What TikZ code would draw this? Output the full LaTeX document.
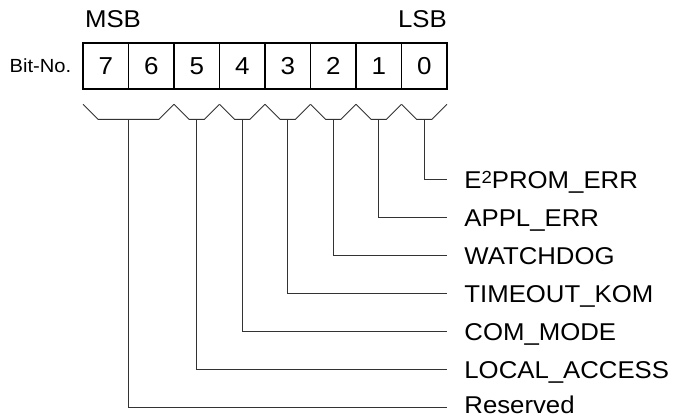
\documentclass[tikz,border=0pt]{standalone}
\usepackage{fontspec}
\setmainfont{Liberation Sans}[FakeStretch=1.06]
\usetikzlibrary{calc}
\begin{document}
\begin{tikzpicture}[x=1pt,y=-1pt,
  cell/.style={draw, line width=1.8pt, minimum width=45.5pt, minimum height=46pt,
    inner sep=0pt, outer sep=0pt, font=\fontsize{24.5}{24.5}\selectfont},
  lbl/.style={anchor=base west, inner sep=0pt, font=\fontsize{24.3}{24.3}\selectfont},
  head/.style={inner sep=0pt, font=\fontsize{24.3}{24.3}\selectfont},
  wire/.style={line width=0.9pt, black!80},
]
\useasboundingbox (0,0) rectangle (676,416);

% register cells
\foreach \b [count=\k from 0] in {7,...,0}
  \node[cell] (b\b) at ({105.75+45.5*\k},66.3) {\b};

\node[anchor=base west, inner sep=0pt,
  font=\fontsize{19}{19}\selectfont] (bitno) at (9.5,72) {Bit-No.};
\node[head, anchor=base west] (msb) at (84.9,27.8) {MSB};
\node[head, anchor=base east] (lsb) at (447,27.8) {LSB};

% braces
\draw[wire] ($(b7.south west)+(0,15)$) -- ++(15,15) -- ($(b6.south east)+(-15,30)$) -- ($(b6.south east)+(0,15)$);
\foreach \b in {5,...,0}
  \draw[wire] ($(b\b.south west)+(0,15)$) -- ++(15,15) -- ($(b\b.south east)+(-15,30)$) -- ($(b\b.south east)+(0,15)$);

% stem points
\coordinate (sr) at ($(b7.south east)+(0,30)$);
\foreach \b in {5,...,0}
  \coordinate (s\b) at ($(b\b.south)+(0,30)$);

% labels
\node[lbl] (l0) at (464.2,188.5) {E\raisebox{5pt}{\fontsize{17.5}{17.5}\selectfont 2}PROM\_ERR};
\node[lbl] (l1) at (464.2,226.5) {APPL\_ERR};
\node[lbl] (l2) at (464.2,264.5) {WATCHDOG};
\node[lbl] (l3) at (464.2,302.5) {TIMEOUT\_KOM};
\node[lbl] (l4) at (464.2,340.5) {COM\_MODE};
\node[lbl] (l5) at (464.2,378.5) {LOCAL\_ACCESS};
\node[lbl, text depth=0pt] (lr) at (464.2,413) {Reserved};

% line end points
\foreach \n/\y in {0/179,1/217,2/255,3/293,4/331,5/369,r/407}
  \coordinate (e\n) at (447,\y);

\foreach \n in {0,...,5,r}
  \draw[wire] (s\n) |- (e\n);
\end{tikzpicture}
\end{document}
